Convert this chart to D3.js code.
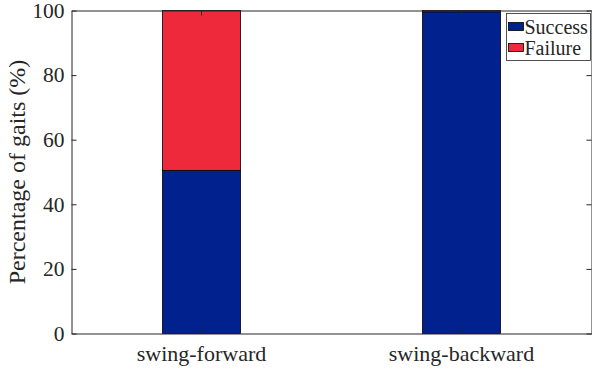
<!DOCTYPE html>
<html>
<head>
<meta charset="utf-8">
<script src="https://cdn.jsdelivr.net/npm/d3@7/dist/d3.min.js"></script>
</head>
<body style="margin:0">
<svg id="chart" width="592" height="370" font-family="Liberation Serif" style="display:block;background:#fff"></svg>
<script>
// Gait outcomes per swing strategy (percent of gaits)
const categories = ["swing-forward", "swing-backward"];
const success = [50.5, 99.6];
const failure = [49.5, 0.4];
const seriesNames = ["Success", "Failure"];
const yTicks = [0, 20, 40, 60, 80, 100];

const colors = { Success: "#01218f", Failure: "#ee293b" };
const axisColor = "#262626";
const serif = "Liberation Serif";

const plot = { left: 71.5, right: 591.5, top: 10.5, bottom: 333.5 };

const svg = d3.select("#chart");

const x = d3.scaleBand()
  .domain(categories)
  .range([plot.left, plot.right])
  .paddingInner(0.7)
  .paddingOuter(0.35);

const y = d3.scaleLinear()
  .domain([0, 100])
  .range([plot.bottom, plot.top]);

const rows = categories.map((c, i) => ({ category: c, Success: success[i], Failure: failure[i] }));
const stacked = d3.stack().keys(seriesNames)(rows);

// stacked bars
svg.append("g").selectAll("g")
  .data(stacked)
  .join("g")
  .attr("fill", d => colors[d.key])
  .selectAll("rect")
  .data(d => d)
  .join("rect")
  .attr("x", d => x(d.data.category))
  .attr("width", x.bandwidth())
  .attr("y", d => y(d[1]))
  .attr("height", d => y(d[0]) - y(d[1]))
  .attr("stroke", "#000")
  .attr("stroke-width", 0.8);

// axes (ticks point inward, box on all sides)
const tickLen = 5;
function styleAxis(g, size) {
  g.attr("font-family", serif).attr("font-size", size);
  g.select(".domain").attr("stroke", axisColor).attr("stroke-width", 1);
  g.selectAll(".tick line").attr("stroke", axisColor).attr("stroke-width", 1);
  g.selectAll(".tick text")
    .attr("font-family", serif)
    .attr("font-size", size)
    .attr("fill", axisColor);
}

const leftAxis = svg.append("g")
  .attr("transform", `translate(${plot.left},0)`)
  .call(d3.axisLeft(y).tickValues(yTicks).tickSize(-tickLen).tickSizeOuter(0).tickPadding(7));
styleAxis(leftAxis, 21.5);

const rightAxis = svg.append("g")
  .attr("transform", `translate(${plot.right},0)`)
  .call(d3.axisRight(y).tickValues(yTicks).tickSize(-tickLen).tickSizeOuter(0).tickFormat(""));
styleAxis(rightAxis, 21.5);

const bottomAxis = svg.append("g")
  .attr("transform", `translate(0,${plot.bottom})`)
  .call(d3.axisBottom(x).tickSize(-tickLen).tickSizeOuter(0).tickPadding(12));
styleAxis(bottomAxis, 22);

const topAxis = svg.append("g")
  .attr("transform", `translate(0,${plot.top})`)
  .call(d3.axisTop(x).tickSize(-tickLen).tickSizeOuter(0).tickFormat(""));
styleAxis(topAxis, 22);

// y-axis label
svg.append("text")
  .attr("transform", `translate(25,${(plot.top + plot.bottom) / 2}) rotate(-90)`)
  .attr("text-anchor", "middle")
  .attr("fill", axisColor)
  .attr("font-family", serif)
  .attr("font-size", 24)
  .text("Percentage of gaits (%)");

// legend
const legend = svg.append("g");
const lg = { x: 506.5, y: 13.5, w: 84, h: 47 };
legend.append("rect")
  .attr("x", lg.x).attr("y", lg.y)
  .attr("width", lg.w).attr("height", lg.h)
  .attr("fill", "#fff")
  .attr("stroke", axisColor)
  .attr("stroke-width", 0.8);

const items = legend.selectAll("g.item")
  .data(seriesNames)
  .join("g")
  .attr("class", "item")
  .attr("transform", (d, i) => `translate(${lg.x + 2},${lg.y + 9 + i * 21})`);

items.append("rect")
  .attr("x", 0).attr("y", 0)
  .attr("width", 15).attr("height", 8)
  .attr("fill", d => colors[d])
  .attr("stroke", "#000")
  .attr("stroke-width", 0.8);

items.append("text")
  .attr("x", 16)
  .attr("y", 11)
  .attr("fill", axisColor)
  .attr("font-family", serif)
  .attr("font-size", 20)
  .text(d => d);
</script>
</body>
</html>
